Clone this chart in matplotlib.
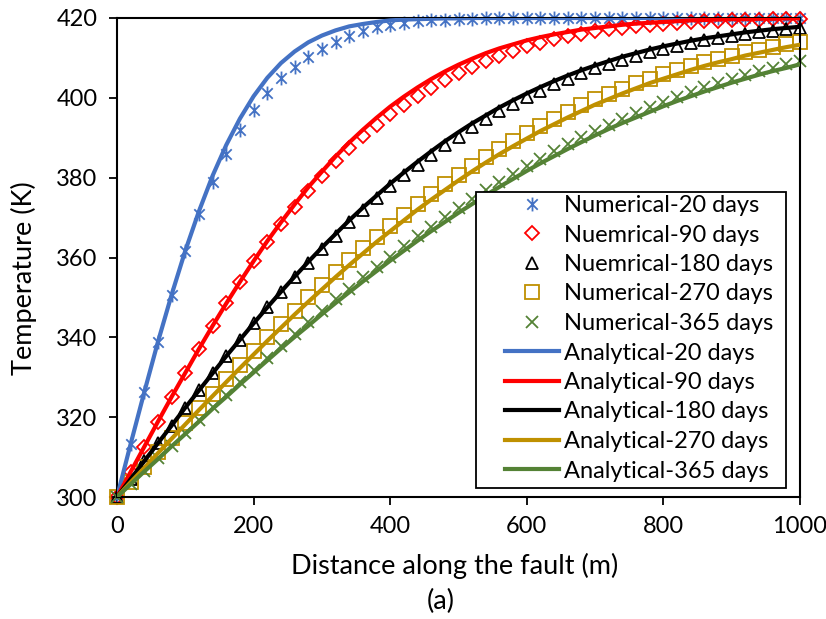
import matplotlib
matplotlib.use("Agg")
import matplotlib.pyplot as plt
from matplotlib.path import Path
from matplotlib.patches import Rectangle

# ---------------- data ----------------
distance = [0, 20, 40, 60, 80, 100, 120, 140, 160, 180, 200, 220, 240, 260, 280,
            300, 320, 340, 360, 380, 400, 420, 440, 460, 480, 500, 520, 540, 560,
            580, 600, 620, 640, 660, 680, 700, 720, 740, 760, 780, 800, 820, 840,
            860, 880, 900, 920, 940, 960, 980, 1000]

num_20 = [300.0, 313.3, 326.3, 338.9, 350.7, 361.7, 370.9, 378.9, 385.9, 391.9,
          397.0, 401.3, 404.9, 407.8, 410.2, 412.2, 414.1, 415.6, 416.8, 417.7,
          418.3, 418.8, 419.2, 419.4, 419.6, 419.7, 419.8, 419.9, 419.9, 420.0,
          420.0, 420.0, 420.0, 420.0, 420.0, 420.0, 420.0, 420.0, 420.0, 420.0,
          420.0, 420.0, 420.0, 420.0, 420.0, 420.0, 420.0, 420.0, 420.0, 420.0, 420.0]
num_90 = [300.0, 306.3, 312.6, 318.9, 325.1, 331.1, 337.1, 342.9, 348.5, 353.9,
          359.1, 363.9, 368.4, 372.7, 376.7, 380.5, 384.1, 387.4, 390.4, 393.3,
          395.9, 398.3, 400.5, 402.5, 404.4, 406.1, 407.7, 409.2, 410.6, 411.8,
          412.9, 413.8, 414.7, 415.4, 416.1, 416.7, 417.2, 417.6, 418.0, 418.3,
          418.6, 418.8, 419.0, 419.2, 419.3, 419.4, 419.5, 419.6, 419.7, 419.8, 419.8]
num_180 = [300.0, 304.5, 309.0, 313.5, 317.9, 322.4, 326.7, 331.0, 335.3, 339.4,
           343.5, 347.5, 351.3, 355.0, 358.6, 362.1, 365.5, 368.8, 371.9, 374.9,
           377.8, 380.6, 383.2, 385.7, 388.1, 390.3, 392.6, 394.6, 396.6, 398.5,
           400.2, 401.8, 403.4, 404.8, 406.1, 407.4, 408.5, 409.6, 410.6, 411.5,
           412.3, 413.1, 413.8, 414.4, 415.0, 415.5, 416.0, 416.5, 416.8, 417.2, 417.5]
num_270 = [300.0, 303.7, 307.5, 311.2, 314.9, 318.6, 322.3, 325.9, 329.5, 333.1,
           336.6, 340.0, 343.4, 346.7, 350.0, 353.2, 356.3, 359.3, 362.3, 365.2,
           368.0, 370.7, 373.3, 375.9, 378.3, 380.7, 383.0, 385.2, 387.3, 389.3,
           391.2, 393.0, 394.8, 396.5, 398.1, 399.6, 401.0, 402.3, 403.6, 404.8,
           405.9, 407.0, 408.0, 409.0, 409.8, 410.6, 411.4, 412.1, 412.8, 413.4, 414.0]
num_365 = [300.0, 303.2, 306.5, 309.7, 312.9, 316.1, 319.3, 322.5, 325.6, 328.7,
           331.8, 334.9, 337.9, 340.8, 343.8, 346.6, 349.5, 352.2, 355.0, 357.6,
           360.2, 362.8, 365.3, 367.7, 370.1, 372.3, 374.6, 376.8, 378.9, 380.9,
           382.9, 384.8, 386.6, 388.4, 390.1, 391.7, 393.3, 394.8, 396.2, 397.6,
           398.9, 400.2, 401.4, 402.6, 403.7, 404.7, 405.7, 406.6, 407.5, 408.4, 409.2]

ana_20 = [300.0, 313.3, 326.3, 338.9, 350.7, 361.7, 371.6, 380.5, 388.2, 394.8,
          400.4, 405.0, 408.7, 411.6, 413.9, 415.6, 416.9, 417.9, 418.5, 419.0,
          419.4, 419.6, 419.7, 419.8, 419.9, 419.9, 420.0, 420.0, 420.0, 420.0,
          420.0, 420.0, 420.0, 420.0, 420.0, 420.0, 420.0, 420.0, 420.0, 420.0,
          420.0, 420.0, 420.0, 420.0, 420.0, 420.0, 420.0, 420.0, 420.0, 420.0, 420.0]
ana_90 = [300.0, 306.3, 312.6, 318.9, 325.1, 331.1, 337.1, 342.9, 348.5, 353.9,
          359.1, 364.1, 368.8, 373.3, 377.6, 381.5, 385.3, 388.8, 392.0, 395.0,
          397.8, 400.3, 402.6, 404.7, 406.6, 408.3, 409.8, 411.2, 412.4, 413.4,
          414.4, 415.2, 415.9, 416.5, 417.1, 417.5, 417.9, 418.3, 418.6, 418.8,
          419.0, 419.2, 419.4, 419.5, 419.6, 419.7, 419.7, 419.8, 419.8, 419.9, 419.9]
ana_180 = [300.0, 304.5, 309.0, 313.5, 317.9, 322.4, 326.7, 331.0, 335.3, 339.4,
           343.5, 347.5, 351.4, 355.2, 358.9, 362.5, 365.9, 369.3, 372.5, 375.5,
           378.5, 381.3, 384.0, 386.6, 389.1, 391.4, 393.6, 395.6, 397.6, 399.4,
           401.1, 402.7, 404.2, 405.6, 406.9, 408.1, 409.2, 410.3, 411.2, 412.1,
           412.9, 413.6, 414.3, 414.9, 415.4, 415.9, 416.4, 416.8, 417.2, 417.5, 417.8]
ana_270 = [300.0, 303.7, 307.3, 311.0, 314.6, 318.2, 321.8, 325.3, 328.8, 332.3,
           335.7, 339.1, 342.4, 345.7, 348.9, 352.0, 355.1, 358.1, 361.0, 363.9,
           366.6, 369.3, 372.0, 374.5, 376.9, 379.3, 381.6, 383.8, 385.9, 387.9,
           389.8, 391.7, 393.4, 395.1, 396.7, 398.3, 399.7, 401.1, 402.4, 403.7,
           404.8, 405.9, 407.0, 408.0, 408.9, 409.7, 410.6, 411.3, 412.0, 412.7, 413.3]
ana_365 = [300.0, 303.2, 306.4, 309.5, 312.7, 315.8, 318.9, 322.1, 325.1, 328.2,
           331.2, 334.2, 337.2, 340.1, 342.9, 345.8, 348.6, 351.3, 354.0, 356.6,
           359.2, 361.7, 364.2, 366.6, 368.9, 371.2, 373.4, 375.6, 377.7, 379.7,
           381.7, 383.6, 385.4, 387.2, 388.9, 390.6, 392.2, 393.7, 395.1, 396.5,
           397.9, 399.2, 400.4, 401.6, 402.7, 403.8, 404.8, 405.8, 406.7, 407.5, 408.4]

numerical_labels = ['Numerical-20 days', 'Nuemrical-90 days', 'Nuemrical-180 days',
                    'Numerical-270 days', 'Numerical-365 days']
analytical_labels = ['Analytical-20 days', 'Analytical-90 days', 'Analytical-180 days',
                     'Analytical-270 days', 'Analytical-365 days']
x_ticks = [0, 200, 400, 600, 800, 1000]
y_ticks = [300, 320, 340, 360, 380, 400, 420]

# ---------------- styling ----------------
plt.rcParams['font.family'] = ['Lato', 'DejaVu Sans']
colors = ['#4472C4', '#FF0000', '#000000', '#BF9000', '#548235']
star = Path([(0, -1), (0, 1), (-0.75, -0.75), (0.75, 0.75), (-0.75, 0.75), (0.75, -0.75)],
            [Path.MOVETO, Path.LINETO] * 3)
markers = [star, 'D', '^', 's', 'x']
msizes = [10, 7, 9, 10, 9]

fig = plt.figure(figsize=(8.26, 6.19), dpi=100)
ax = fig.add_axes([117 / 826, 1 - 497 / 619, 683 / 826, 479 / 619])

handles = []
for ys, c, m, ms, lab in zip([num_20, num_90, num_180, num_270, num_365],
                             colors, markers, msizes, numerical_labels):
    h, = ax.plot(distance, ys, ls='none', marker=m, ms=ms, mfc='none', mec=c,
                 mew=1.3, label=lab, clip_on=False, zorder=2)
    handles.append(h)
for ys, c, lab in zip([ana_20, ana_90, ana_180, ana_270, ana_365], colors, analytical_labels):
    h, = ax.plot(distance, ys, color=c, lw=3, label=lab, zorder=3)
    handles.append(h)

ax.set_xlim(0, 1000)
ax.set_ylim(300, 420)
ax.set_xticks(x_ticks)
ax.set_yticks(y_ticks)
for s in ax.spines.values():
    s.set_linewidth(1.5)
ax.tick_params(direction='out', length=6, width=1.3, labelsize=17, pad=8)

ax.set_xlabel('Distance along the fault (m)', fontsize=19.5)
ax.xaxis.set_label_coords((455 - 117) / 683, (497 - 566) / 479)
ax.xaxis.label.set_va('center')
ax.set_ylabel('Temperature (K)', fontsize=19.5)
ax.yaxis.set_label_coords((24 - 117) / 683, (497 - 278) / 479)
ax.yaxis.label.set_va('center')
fig.text(441 / 826, 1 - 601 / 619, '(a)', fontsize=19.5, ha='center', va='center')

leg = fig.legend(handles=handles, loc='upper left', bbox_to_anchor=(505 / 826, 1 - 195 / 619),
                 frameon=False, fontsize=17, borderpad=0, handlelength=2.3,
                 handletextpad=0.2, labelspacing=0.36, borderaxespad=0)
fig.add_artist(Rectangle((476 / 826, 1 - 488 / 619), 310 / 826, 296 / 619,
                         transform=fig.transFigure, facecolor='white',
                         edgecolor='black', lw=1.3, zorder=4))
leg.set_zorder(5)

fig.savefig('out.png', dpi=100)
